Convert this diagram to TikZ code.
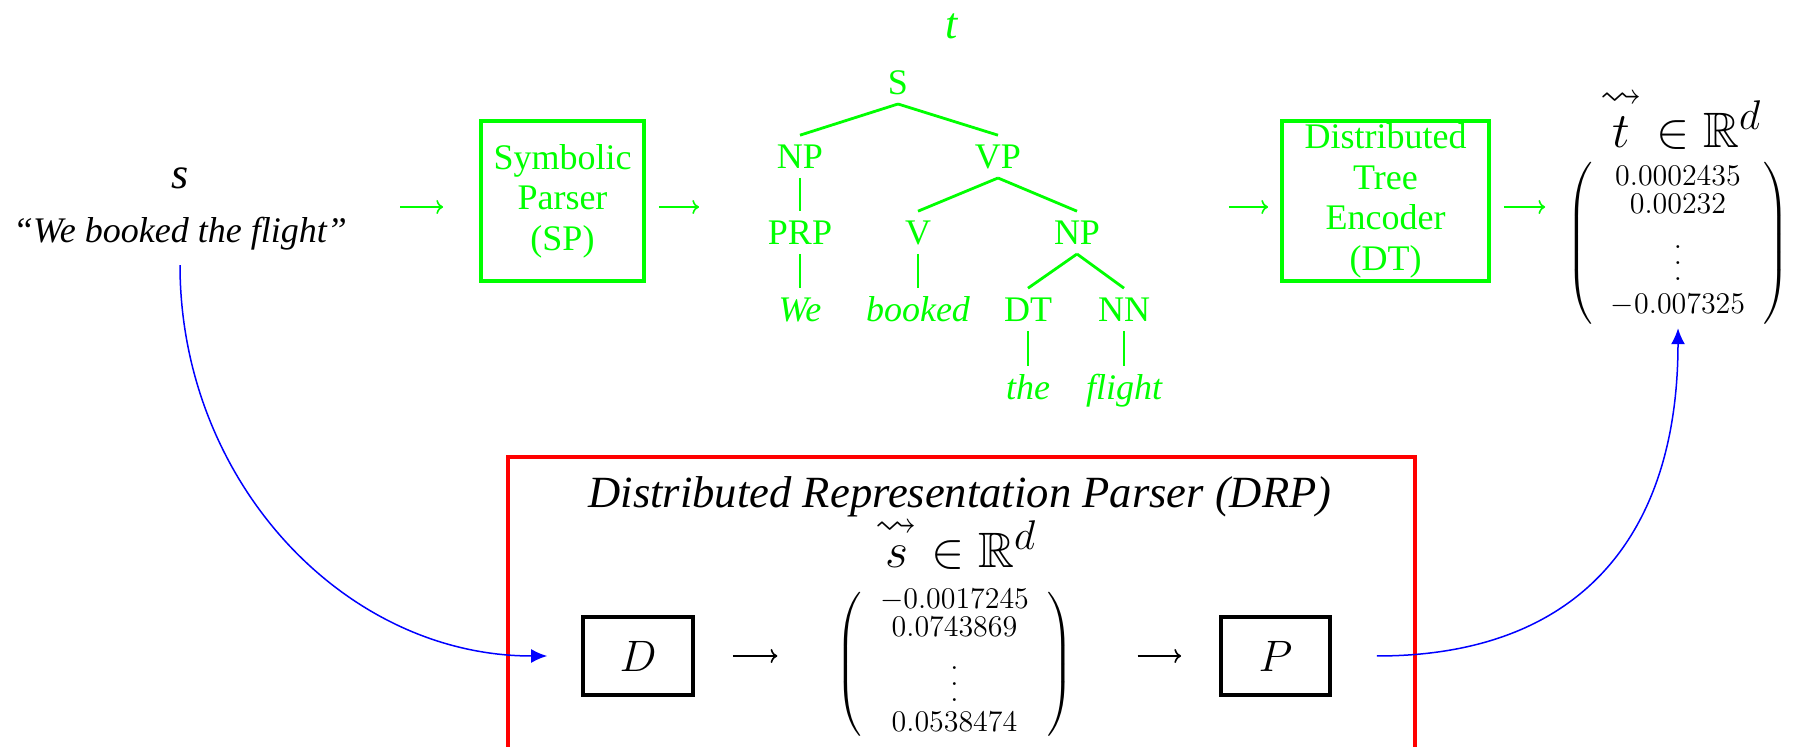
\RequirePackage{fix-cm}
\documentclass[tikz,border=0pt]{standalone}
\usepackage{amsmath,amssymb}
\usepackage[no-math]{fontspec}
\setmainfont{Liberation Serif}
\usetikzlibrary{arrows.meta,calc,fit}
\definecolor{G}{RGB}{0,255,0}
\definecolor{B}{RGB}{0,0,255}
\definecolor{R}{RGB}{255,0,0}
\newcommand{\mydots}{\smash{\raisebox{-8.8pt}{\vbox{\baselineskip=8pt\lineskiplimit=-20pt\hbox{$.$}\hbox{$.$}\hbox{$.$}}}}}
\newcommand{\sqv}[1]{\overset{\scriptstyle\rightsquigarrow}{#1}}
\begin{document}
\begin{tikzpicture}[x=0.5pt,y=-0.5pt,
  box/.style={draw, line width=1.9pt, inner sep=0pt, align=center},
  gbox/.style={box, draw=G, text=G, font=\fontsize{18}{20.25}\selectfont},
  tn/.style={text=G, font=\fontsize{18}{20}\selectfont, inner sep=0pt, outer sep=4.75pt, text height=11.9pt, text depth=0pt, anchor=base},
  tni/.style={tn, font=\fontsize{18}{20}\selectfont\itshape},
  tl/.style={draw=G, line width=1.4pt},
  garrow/.style={draw=G, line width=0.8pt, -{Computer Modern Rightarrow}},
  karrow/.style={draw=black, line width=0.8pt, -{Computer Modern Rightarrow}},
  barrow/.style={draw=B, line width=0.75pt, -{Latex[length=8pt,width=7pt]}},
  vec/.style={inner sep=0pt},
  vlab/.style={inner sep=0pt, anchor=base, font=\fontsize{24.88}{28}\selectfont},
  bigit/.style={inner sep=0pt, anchor=base, font=\fontsize{22}{26}\selectfont\itshape},
]
\useasboundingbox (0,0) rectangle (1795,747);
\clip (0,0) rectangle (1795,747);

% input sentence
\node[bigit] (slabel) at (180,189) {s};
\node[inner sep=0pt, anchor=base, font=\fontsize{18}{20}\selectfont\itshape] (sent) at (180,243) {“We booked the flight”};

% symbolic parser
\node[gbox, minimum width=81.5pt, minimum height=80pt] (SP) at (562.5,201) {Symbolic\\Parser\\(SP)};

% tree
\node[bigit, text=G] (tlabel) at (952,39) {t};
\node[tn] (S) at (898,94.5) {S};
\node[tn] (NP) at (800,168.5) {NP};
\node[tn] (VP) at (998,168.5) {VP};
\node[tn] (PRP) at (800,244.5) {PRP};
\node[tn] (V) at (918,244.5) {V};
\node[tn] (NPb) at (1077,244.5) {NP};
\node[tni] (We) at (800,321.5) {We};
\node[tni] (booked) at (918,321.5) {booked};
\node[tn] (DT) at (1028,321.5) {DT};
\node[tn] (NN) at (1124,321.5) {NN};
\node[tni] (the) at (1028,399.5) {the};
\node[tni] (flight) at (1124,399.5) {flight};
\draw[tl] (S.south) -- (NP.north);
\draw[tl] (S.south) -- (VP.north);
\draw[tl] (NP.south) -- (PRP.north);
\draw[tl] (VP.south) -- (V.north);
\draw[tl] (VP.south) -- (NPb.north);
\draw[tl] (PRP.south) -- (We.north);
\draw[tl] (V.south) -- (booked.north);
\draw[tl] (NPb.south) -- (DT.north);
\draw[tl] (NPb.south) -- (NN.north);
\draw[tl] (DT.south) -- (the.north);
\draw[tl] (NN.south) -- (flight.north);
\node[fit=(S)(NP)(PRP)(We)(booked)(NN)(flight), inner sep=0pt] (tree) {};

% distributed tree encoder
\node[gbox, minimum width=103.5pt, minimum height=80pt] (DTE) at (1385.5,201) {Distributed\\Tree\\Encoder\\(DT)};

% tree vector
\node[vlab] (tlab) at (1681,148) {$\sqv{t}\in\mathbb{R}^d$};
\node[vec, font=\fontsize{15}{13}\selectfont] (tvec) at (1678,243.8) {$\left(\begin{array}{@{\hspace{9pt}}c@{\hspace{9pt}}}0.0002435\\0.00232\\[11.75pt]\mydots\\[11.75pt]-0.007325\end{array}\right)$};

% DRP
\node[draw=R, line width=1.9pt, minimum width=453.5pt, minimum height=171.5pt, inner sep=0pt] (DRP) at (961.5,628.5) {};
\node[inner sep=0pt, anchor=base, font=\fontsize{22.3}{26}\selectfont\itshape] (title) at (960,508) {Distributed Representation Parser (DRP)};
\node[vlab] (slab) at (956,568) {$\sqv{s}\in\mathbb{R}^d$};
\node[box, minimum width=55pt, minimum height=39pt, font=\fontsize{22}{26}\selectfont] (D) at (638,656) {$D$};
\node[box, minimum width=54.5pt, minimum height=39pt, font=\fontsize{22}{26}\selectfont] (P) at (1275.5,656) {$P$};
\node[vec, font=\fontsize{15}{14}\selectfont] (svec) at (954.5,664.4) {$\left(\begin{array}{@{\hspace{9pt}}c@{\hspace{9pt}}}-0.0017245\\0.0743869\\[9.75pt]\mydots\\[9.75pt]0.0538474\end{array}\right)$};

% arrows
\coordinate (ay) at (0,207);
\coordinate (by) at (0,656);
\draw[garrow, shorten <=26.5pt, shorten >=18pt] (sent.east |- ay) -- (SP.west |- ay);
\draw[garrow, shorten <=6.5pt, shorten >=29.5pt] (SP.east |- ay) -- (tree.west |- ay);
\draw[garrow, shorten <=28.5pt, shorten >=6pt] (tree.east |- ay) -- (DTE.west |- ay);
\draw[garrow, shorten <=6.5pt, shorten >=10.5pt] (DTE.east |- ay) -- (tvec.west |- ay);
\draw[karrow, shorten <=19pt, shorten >=29pt] (D.east |- by) -- (svec.west |- by);
\draw[karrow, shorten <=32pt, shorten >=19pt] (svec.east |- by) -- (P.west |- by);

\draw[barrow, shorten <=7pt, shorten >=17pt] (sent.south) .. controls +(0,230) and +(-237,0) .. (D.west);
\draw[barrow, shorten <=22.5pt, shorten >=1.5pt] (P.east) .. controls +(250,0) and +(0,208) .. (tvec.south);
\end{tikzpicture}
\end{document}
